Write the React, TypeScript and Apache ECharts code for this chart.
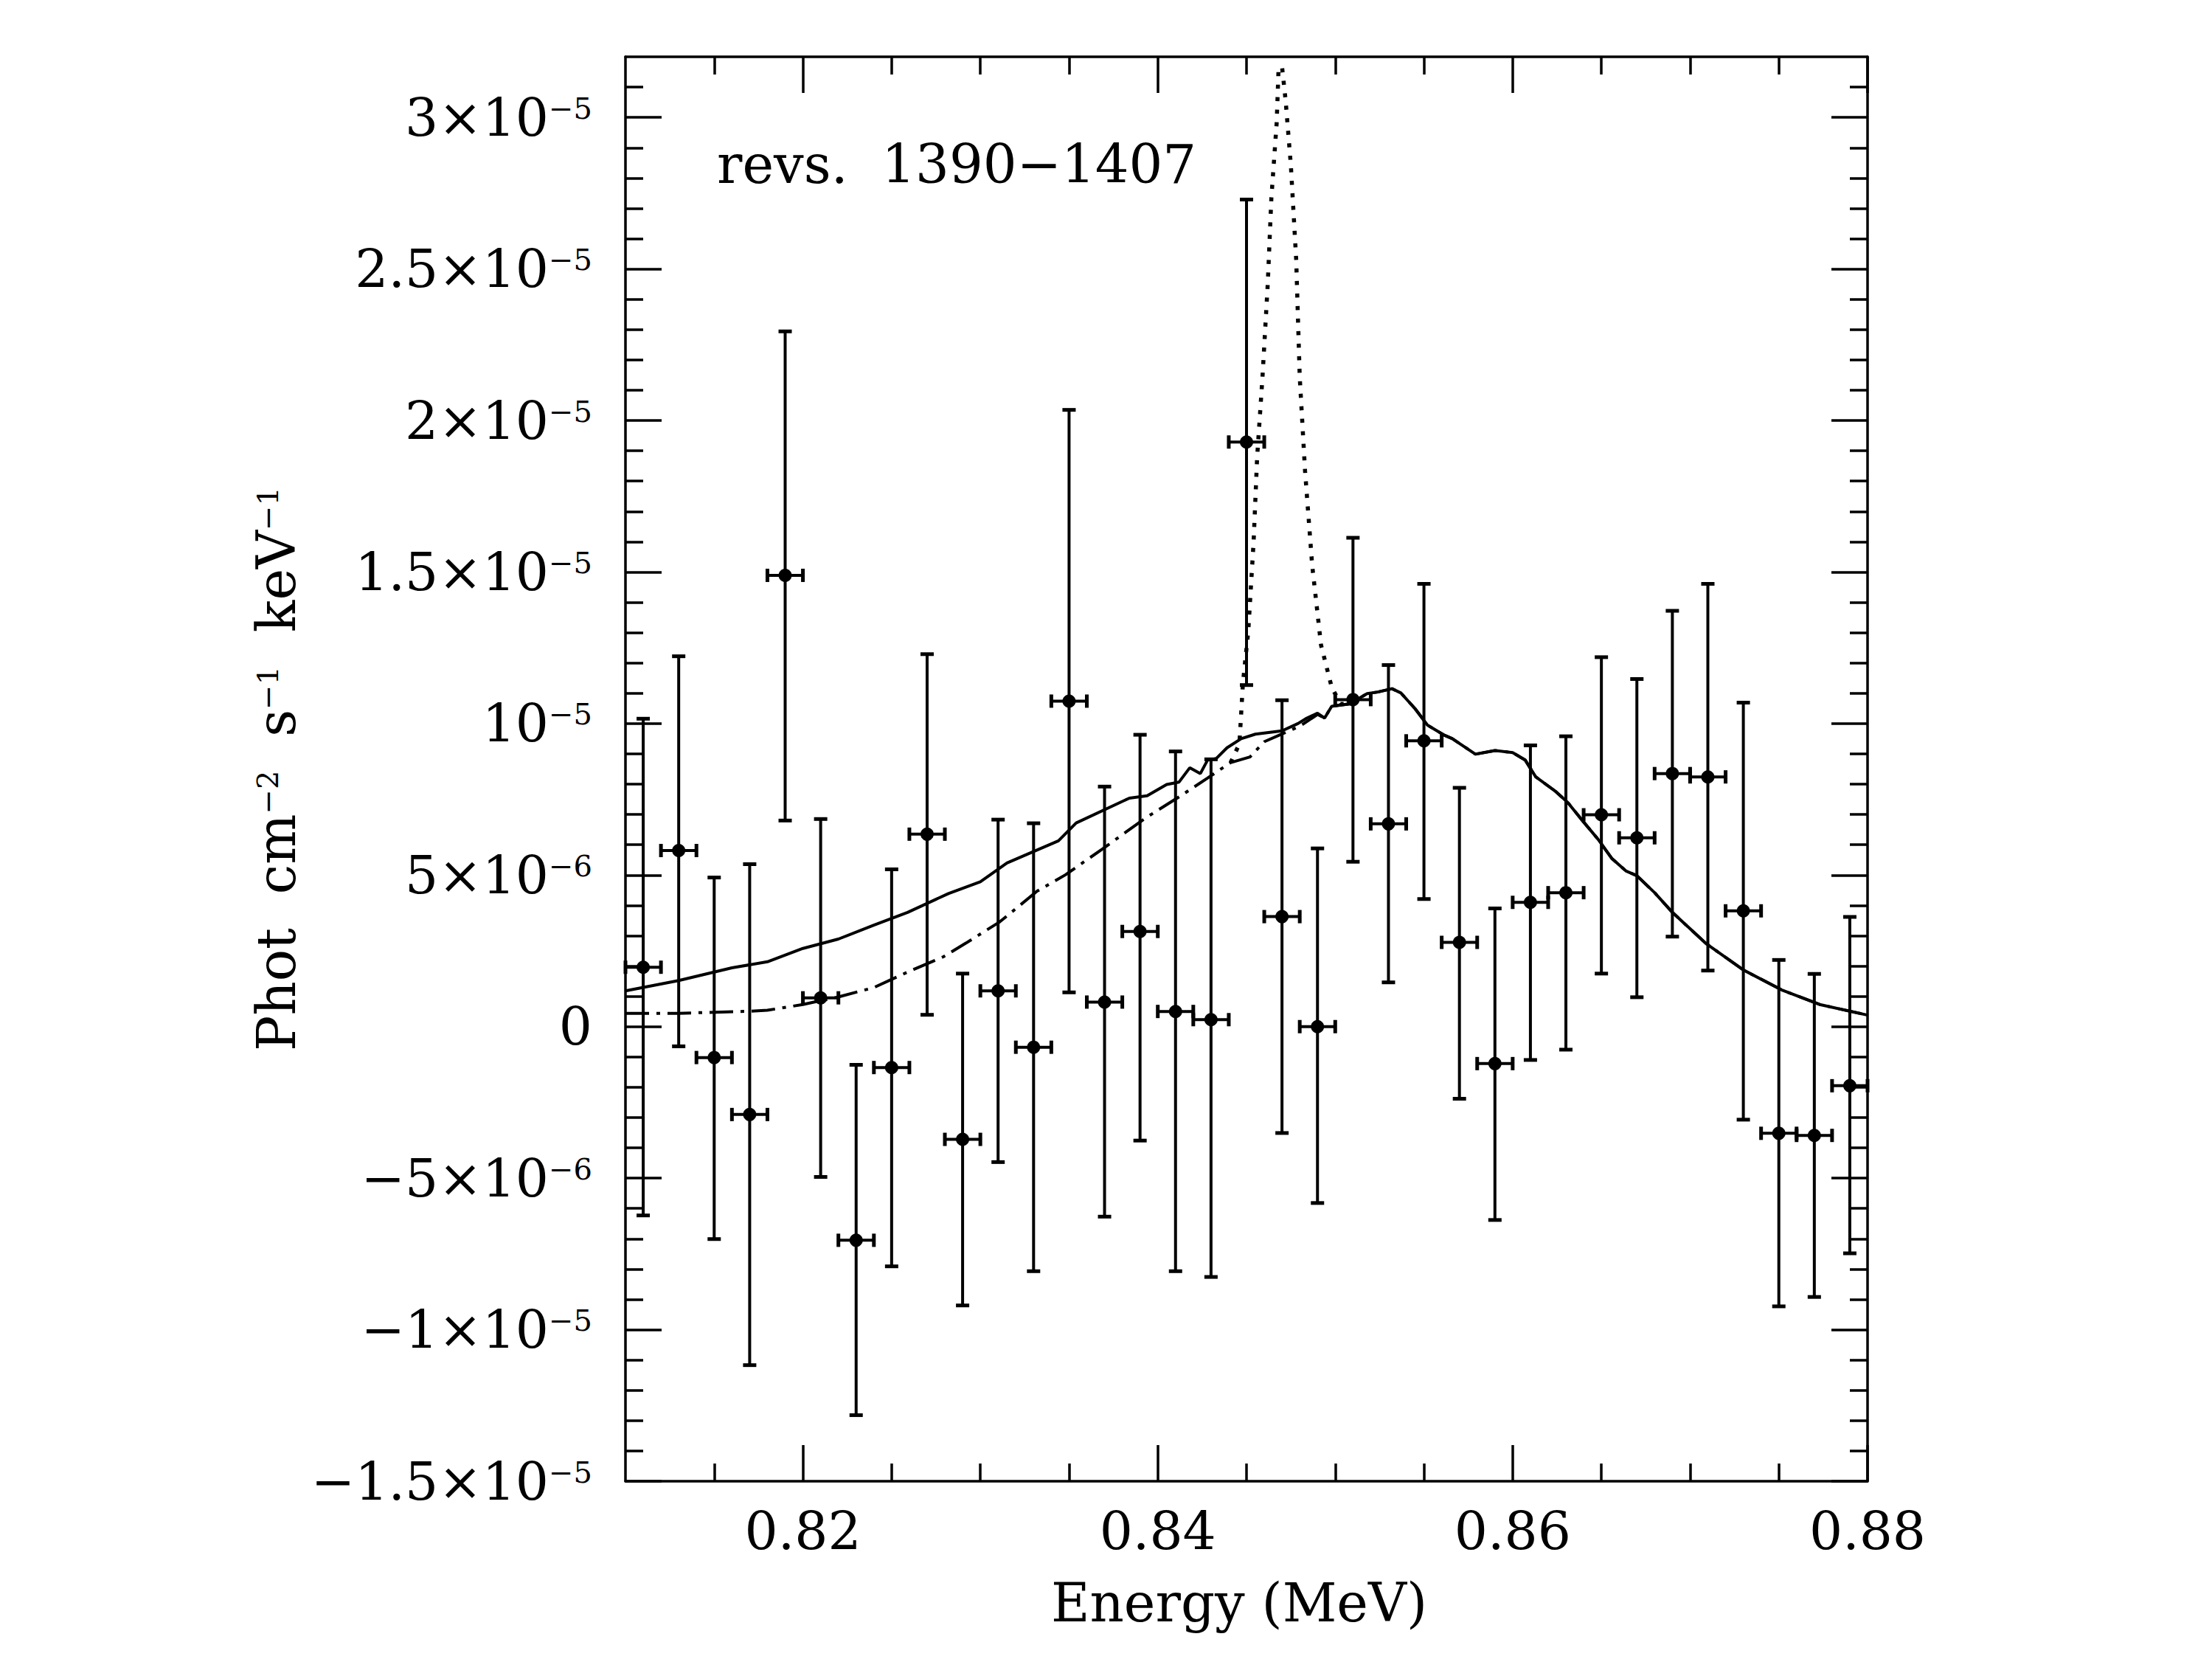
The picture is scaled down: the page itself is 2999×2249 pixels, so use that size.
import React, { useEffect, useRef } from 'react';
import * as echarts from 'echarts';

// Flux values are given in units of 1e-5 phot cm^-2 s^-1 keV^-1
const UNIT = 1e-5;

// Data points (SPI spectrum, revs. 1390-1407)
const pointEnergy = [0.811, 0.813, 0.815, 0.817, 0.819, 0.821, 0.823, 0.825, 0.827, 0.829, 0.831, 0.833, 0.835, 0.837, 0.839, 0.841, 0.843, 0.845, 0.847, 0.849, 0.851, 0.853, 0.855, 0.857, 0.859, 0.861, 0.863, 0.865, 0.867, 0.869, 0.871, 0.873, 0.875, 0.877, 0.879];
const pointFlux = [0.196, 0.581, -0.102, -0.290, 1.489, 0.095, -0.705, -0.135, 0.635, -0.372, 0.118, -0.068, 1.074, 0.081, 0.314, 0.050, 0.023, 1.929, 0.363, 0.000, 1.079, 0.669, 0.943, 0.278, -0.122, 0.410, 0.442, 0.699, 0.623, 0.835, 0.824, 0.382, -0.352, -0.359, -0.195];
const pointFluxHigh = [1.016, 1.222, 0.492, 0.536, 2.294, 0.685, -0.126, 0.519, 1.229, 0.175, 0.683, 0.671, 2.035, 0.792, 0.963, 0.908, 0.882, 2.729, 1.077, 0.588, 1.613, 1.193, 1.461, 0.788, 0.390, 0.928, 0.958, 1.219, 1.147, 1.372, 1.461, 1.069, 0.220, 0.174, 0.362];
const pointFluxLow = [-0.623, -0.065, -0.701, -1.117, 0.680, -0.496, -1.282, -0.791, 0.039, -0.920, -0.447, -0.807, 0.113, -0.627, -0.376, -0.807, -0.826, 1.127, -0.351, -0.582, 0.544, 0.146, 0.421, -0.238, -0.638, -0.110, -0.076, 0.175, 0.097, 0.297, 0.185, -0.307, -0.923, -0.892, -0.748];
const binHalfWidth = 0.001;

// Model curve (solid)
const solidEnergy = [0.8100, 0.8130, 0.8160, 0.8180, 0.8200, 0.8220, 0.8240, 0.8259, 0.8282, 0.8300, 0.8315, 0.8344, 0.8354, 0.8384, 0.8394, 0.8405, 0.8412, 0.8418, 0.8424, 0.8428, 0.8433, 0.8439, 0.8447, 0.8455, 0.8470, 0.8479, 0.8484, 0.8490, 0.8494, 0.8498, 0.8508, 0.8518, 0.8524, 0.8532, 0.8537, 0.8545, 0.8552, 0.8561, 0.8566, 0.8579, 0.8590, 0.8600, 0.8607, 0.8613, 0.8624, 0.8631, 0.8640, 0.8648, 0.8656, 0.8664, 0.8670, 0.8680, 0.8690, 0.8709, 0.8730, 0.8752, 0.8773, 0.8800];
const solidFlux = [0.118, 0.152, 0.194, 0.214, 0.258, 0.289, 0.335, 0.377, 0.439, 0.478, 0.540, 0.613, 0.672, 0.754, 0.762, 0.799, 0.807, 0.854, 0.835, 0.879, 0.885, 0.920, 0.950, 0.965, 0.976, 1.000, 1.018, 1.034, 1.018, 1.057, 1.065, 1.099, 1.104, 1.115, 1.101, 1.049, 0.995, 0.963, 0.950, 0.899, 0.911, 0.904, 0.880, 0.824, 0.777, 0.740, 0.675, 0.619, 0.554, 0.513, 0.498, 0.442, 0.377, 0.274, 0.187, 0.120, 0.073, 0.038];

// Model curve (dash-dot), low-energy part; above 0.849 MeV it follows the solid curve
const dashDotEnergy = [0.8100, 0.8130, 0.8170, 0.8180, 0.8200, 0.8220, 0.8240, 0.8259, 0.8279, 0.8292, 0.8311, 0.8332, 0.8348, 0.8369, 0.8393, 0.8412, 0.8428, 0.8441, 0.8452, 0.8460, 0.8480, 0.8490];
const dashDotFlux = [0.044, 0.044, 0.051, 0.054, 0.073, 0.098, 0.129, 0.180, 0.230, 0.276, 0.346, 0.447, 0.501, 0.587, 0.688, 0.758, 0.820, 0.871, 0.890, 0.940, 0.991, 1.030];

// Model curve (dotted), narrow line near 0.847 MeV
const dottedEnergy = [0.8441, 0.8446, 0.8448, 0.8451, 0.8454, 0.8456, 0.8459, 0.8462, 0.8464, 0.8467, 0.8468, 0.8470, 0.8472, 0.8475, 0.8478, 0.8480, 0.8483, 0.8487, 0.8492, 0.8498, 0.8503, 0.8508];
const dottedFlux = [0.871, 0.933, 1.135, 1.305, 1.600, 1.880, 2.143, 2.454, 2.733, 2.982, 3.150, 3.168, 3.059, 2.842, 2.531, 2.143, 1.833, 1.523, 1.259, 1.120, 1.065, 1.065];

// Axes
const xMin = 0.81;
const xMax = 0.88;
const yMin = -1.5e-5;
const yMax = 3.2e-5;
const xTickValues = [0.82, 0.84, 0.86, 0.88];
const xTickLabels = ['0.82', '0.84', '0.86', '0.88'];
const yTickValues = [-1.5e-5, -1e-5, -5e-6, 0, 5e-6, 1e-5, 1.5e-5, 2e-5, 2.5e-5, 3e-5];
const yTickMantissa = ['−1.5×10', '−1×10', '−5×10', '0', '5×10', '10', '1.5×10', '2×10', '2.5×10', '3×10'];
const yTickExponent = ['−5', '−5', '−6', '', '−6', '−5', '−5', '−5', '−5', '−5'];

const xMinorTicks: number[] = [];
for (let i = 163; i < 176; i++) {
  const v = Math.round(i * 5) / 1000;
  if (!xTickValues.some((t) => Math.abs(t - v) < 1e-9)) xMinorTicks.push(v);
}
const yMinorTicks: number[] = [];
for (let i = -14; i <= 31; i++) {
  if (i % 5 !== 0) yMinorTicks.push(i * 1e-6);
}

const FONT = 'DejaVu Serif';
const BLACK = '#000';

const xLabel = (v: number) => {
  const i = xTickValues.findIndex((t) => Math.abs(t - v) < 1e-9);
  return i < 0 ? '' : xTickLabels[i];
};
const yLabel = (v: number) => {
  const i = yTickValues.findIndex((t) => Math.abs(t - v) < 1e-12);
  if (i < 0) return '';
  return yTickExponent[i]
    ? `{m|${yTickMantissa[i]}}{e|${yTickExponent[i]}}`
    : `{m|${yTickMantissa[i]}}`;
};

const axisLineStyle = { color: BLACK, width: 3.5 };
const tickLine = { color: BLACK, width: 3.5 };

function makeOption(): any {
  const baseX = { type: 'value', min: xMin, max: xMax, splitLine: { show: false } };
  const baseY = { type: 'value', min: yMin, max: yMax, splitLine: { show: false } };

  const xAxis = [
    {
      ...baseX,
      position: 'bottom',
      axisLine: { show: true, onZero: false, lineStyle: axisLineStyle },
      axisTick: { show: true, inside: true, length: 49, lineStyle: tickLine, customValues: xTickValues },
      axisLabel: {
        show: true, customValues: xTickValues, formatter: xLabel, margin: 32,
        fontSize: 71, fontFamily: FONT, color: BLACK,
      },
      name: 'Energy (MeV)',
      nameLocation: 'middle',
      nameGap: 129,
      nameTextStyle: { fontSize: 72, fontFamily: FONT, color: BLACK, padding: [0, 20, 0, 0] },
    },
    {
      ...baseX,
      position: 'bottom',
      axisLine: { show: false, onZero: false },
      axisTick: { show: true, inside: true, length: 24, lineStyle: tickLine, customValues: xMinorTicks },
      axisLabel: { show: false },
    },
    {
      ...baseX,
      position: 'top',
      axisLine: { show: true, onZero: false, lineStyle: axisLineStyle },
      axisTick: { show: true, inside: true, length: 49, lineStyle: tickLine, customValues: xTickValues },
      axisLabel: { show: false },
    },
    {
      ...baseX,
      position: 'top',
      axisLine: { show: false, onZero: false },
      axisTick: { show: true, inside: true, length: 24, lineStyle: tickLine, customValues: xMinorTicks },
      axisLabel: { show: false },
    },
  ];

  const yAxis = [
    {
      ...baseY,
      position: 'left',
      axisLine: { show: true, onZero: false, lineStyle: axisLineStyle },
      axisTick: { show: true, inside: true, length: 49, lineStyle: tickLine, customValues: yTickValues },
      axisLabel: {
        show: true, customValues: yTickValues, formatter: yLabel, margin: 45, color: BLACK,
        rich: {
          m: { fontSize: 71, fontFamily: FONT, color: BLACK, lineHeight: 71 },
          e: { fontSize: 40, fontFamily: FONT, color: BLACK, verticalAlign: 'top', padding: [3, 0, 0, 0] },
        },
      },
      name: '{m|Phot}{m|\u00A0\u00A0cm}{e|−2}{m|\u00A0\u00A0s}{e|−1}{m|\u00A0\u00A0keV}{e|−1}',
      nameLocation: 'middle',
      nameGap: 419,
      nameTextStyle: {
        color: BLACK,
        rich: {
          m: { fontSize: 72, fontFamily: FONT, color: BLACK, lineHeight: 72 },
          e: { fontSize: 40, fontFamily: FONT, color: BLACK, verticalAlign: 'top', padding: [4, 0, 0, 0] },
        },
      },
    },
    {
      ...baseY,
      position: 'left',
      axisLine: { show: false, onZero: false },
      axisTick: { show: true, inside: true, length: 24, lineStyle: tickLine, customValues: yMinorTicks },
      axisLabel: { show: false },
    },
    {
      ...baseY,
      position: 'right',
      axisLine: { show: true, onZero: false, lineStyle: axisLineStyle },
      axisTick: { show: true, inside: true, length: 49, lineStyle: tickLine, customValues: yTickValues },
      axisLabel: { show: false },
    },
    {
      ...baseY,
      position: 'right',
      axisLine: { show: false, onZero: false },
      axisTick: { show: true, inside: true, length: 24, lineStyle: tickLine, customValues: yMinorTicks },
      axisLabel: { show: false },
    },
  ];

  const solidData = solidEnergy.map((x, i) => [x, solidFlux[i] * UNIT]);
  const lastDD = dashDotEnergy[dashDotEnergy.length - 1];
  const dashDotData = [
    ...dashDotEnergy.map((x, i) => [x, dashDotFlux[i] * UNIT]),
    ...solidEnergy.map((x, i) => [x, solidFlux[i] * UNIT]).filter((p) => p[0] > lastDD),
  ];
  const dottedData = dottedEnergy.map((x, i) => [x, dottedFlux[i] * UNIT]);
  const pointData = pointEnergy.map((x, i) => [x, pointFlux[i] * UNIT, pointFluxLow[i] * UNIT, pointFluxHigh[i] * UNIT]);

  const CAP_V = 9; // half-width of caps on vertical error bars (px)
  const CAP_H = 9; // half-height of caps on horizontal error bars (px)

  return {
    animation: false,
    backgroundColor: '#fff',
    grid: { left: 848, right: 467, top: 77, bottom: 241, containLabel: false },
    xAxis,
    yAxis,
    graphic: [
      {
        type: 'text',
        x: 972,
        y: 223,
        style: {
          text: 'revs.\u00A0\u00A01390−1407',
          fontSize: 72,
          fontFamily: FONT,
          fill: BLACK,
          textAlign: 'left',
          textVerticalAlign: 'middle',
        },
      },
    ],
    series: [
      {
        name: 'model',
        type: 'line',
        xAxisIndex: 0,
        yAxisIndex: 0,
        data: solidData,
        symbol: 'none',
        showSymbol: false,
        silent: true,
        lineStyle: { color: BLACK, width: 4, type: 'solid' },
        z: 3,
      },
      {
        name: 'model (dash-dot)',
        type: 'line',
        xAxisIndex: 0,
        yAxisIndex: 0,
        data: dashDotData,
        symbol: 'none',
        showSymbol: false,
        silent: true,
        lineStyle: { color: BLACK, width: 4, type: [32, 10, 5, 10] },
        z: 3,
      },
      {
        name: 'model (dotted)',
        type: 'line',
        xAxisIndex: 0,
        yAxisIndex: 0,
        data: dottedData,
        symbol: 'none',
        showSymbol: false,
        silent: true,
        lineStyle: { color: BLACK, width: 5.5, type: [5.5, 11.5], cap: 'butt' },
        z: 3,
      },
      {
        name: 'data',
        type: 'custom',
        xAxisIndex: 0,
        yAxisIndex: 0,
        data: pointData,
        encode: { x: 0, y: [1, 2, 3] },
        silent: true,
        z: 5,
        renderItem: (params: any, api: any) => {
          const x = api.value(0);
          const y = api.value(1);
          const lo = api.value(2);
          const hi = api.value(3);
          const c = api.coord([x, y]);
          const top = api.coord([x, hi]);
          const bot = api.coord([x, lo]);
          const left = api.coord([x - binHalfWidth, y]);
          const right = api.coord([x + binHalfWidth, y]);
          const st = { stroke: BLACK, lineWidth: 4 };
          const stCap = { stroke: BLACK, lineWidth: 5 };
          return {
            type: 'group',
            children: [
              { type: 'line', shape: { x1: c[0], y1: top[1], x2: c[0], y2: bot[1] }, style: st },
              { type: 'line', shape: { x1: c[0] - CAP_V, y1: top[1], x2: c[0] + CAP_V, y2: top[1] }, style: stCap },
              { type: 'line', shape: { x1: c[0] - CAP_V, y1: bot[1], x2: c[0] + CAP_V, y2: bot[1] }, style: stCap },
              { type: 'line', shape: { x1: left[0], y1: c[1], x2: right[0], y2: c[1] }, style: st },
              { type: 'line', shape: { x1: left[0], y1: c[1] - CAP_H, x2: left[0], y2: c[1] + CAP_H }, style: stCap },
              { type: 'line', shape: { x1: right[0], y1: c[1] - CAP_H, x2: right[0], y2: c[1] + CAP_H }, style: stCap },
              { type: 'circle', shape: { cx: c[0], cy: c[1], r: 9 }, style: { fill: BLACK } },
            ],
          };
        },
      },
    ],
  };
}

export default function App() {
  const ref = useRef<HTMLDivElement>(null);
  useEffect(() => {
    if (!ref.current) return;
    const chart = echarts.init(ref.current, null, { renderer: 'svg', width: 2999, height: 2249 });
    chart.setOption(makeOption());
    return () => {
      chart.dispose();
    };
  }, []);
  return (
    <div
      ref={ref}
      style={{ position: 'fixed', left: 0, top: 0, width: 2999, height: 2249, background: '#fff' }}
    />
  );
}
